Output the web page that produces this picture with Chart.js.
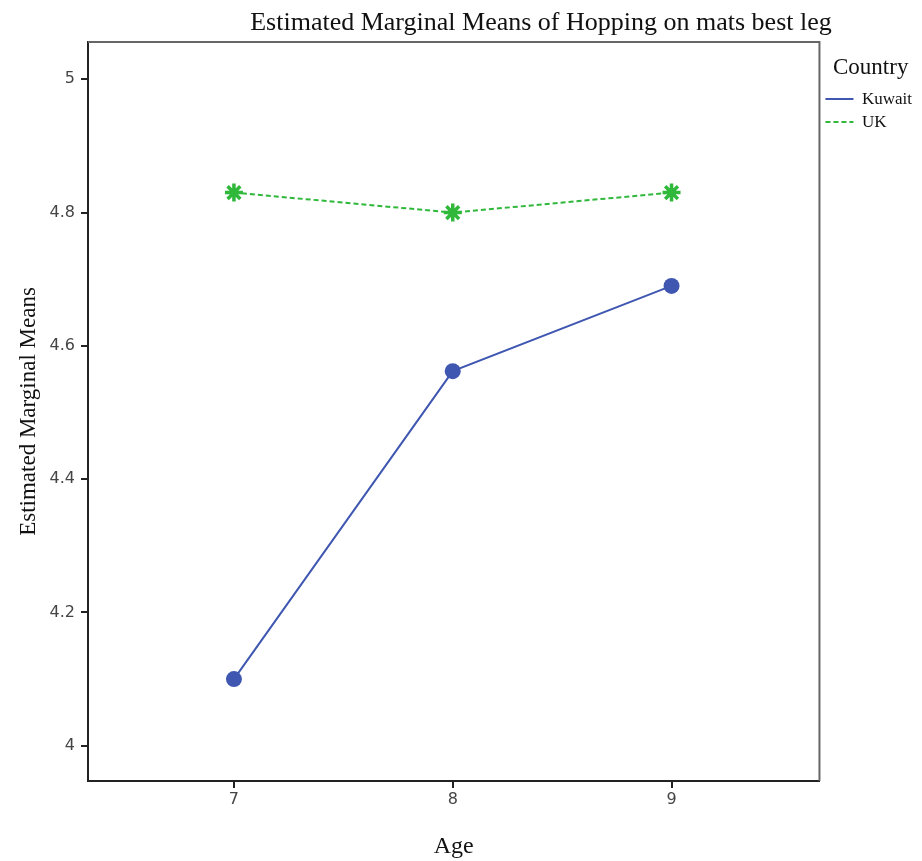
<!DOCTYPE html>
<html>
  <head>
    <script src="https://cdn.jsdelivr.net/npm/chart.js@4"></script>
    <style>
      html, body { margin: 0; padding: 0; background: #ffffff; }
      #box { width: 922px; height: 861px; }
    </style>
  </head>

  <body>
    <div id="box"><canvas id="emm"></canvas></div>
  </body>

  <script>
    // values
    var ages = [7, 8, 9];
    var kuwait = [4.10, 4.562, 4.69];
    var uk = [4.83, 4.80, 4.83];
    var yTicks = [4, 4.2, 4.4, 4.6, 4.8, 5];
    var yLabels = ["4", "4.2", "4.4", "4.6", "4.8", "5"];
    var title = "Estimated Marginal Means of Hopping on mats best leg";

    var serif = "'Liberation Serif', 'DejaVu Serif', serif";
    var sans = "'DejaVu Sans', sans-serif";

    function pts(ys) {
      return ages.map(function (a, i) { return { x: a, y: ys[i] }; });
    }

    // grey frame on top/right of the plot, and the title
    const frame = {
      id: "frame",
      afterDraw(chart) {
        const a = chart.chartArea;
        const ctx = chart.ctx;
        ctx.save();
        ctx.strokeStyle = "#666666";
        ctx.lineWidth = 2;
        ctx.beginPath();
        ctx.moveTo(a.left, a.top);
        ctx.lineTo(a.right, a.top);
        ctx.lineTo(a.right, a.bottom);
        ctx.stroke();
        ctx.fillStyle = "#111111";
        ctx.font = "26px " + serif;
        ctx.textAlign = "center";
        ctx.textBaseline = "middle";
        ctx.fillText(title, 541, 23);
        ctx.restore();
      },
    };

    const ctx = document.getElementById("emm").getContext("2d");
    const chart = new Chart(ctx, {
      type: "line",
      data: {
        datasets: [
          {
            label: "Kuwait",
            data: pts(kuwait),
            borderColor: "#3f57b1",
            backgroundColor: "#3f57b1",
            borderWidth: 2,
            pointRadius: 8,
            pointStyle: "circle",
            pointBorderWidth: 0,
          },
          {
            label: "UK",
            data: pts(uk),
            borderColor: "#2fb83a",
            backgroundColor: "#2fb83a",
            borderWidth: 2,
            borderDash: [5, 3],
            pointRadius: 9,
            pointStyle: "star",
            pointBorderWidth: 3.5,
          },
        ],
      },
      options: {
        animation: false,
        responsive: true,
        maintainAspectRatio: false,
        devicePixelRatio: 1,
        layout: { padding: { top: 42, left: 0, right: 0, bottom: 0 } },
        scales: {
          x: {
            type: "linear",
            min: 6.333,
            max: 9.676,
            afterBuildTicks: function (s) { s.ticks = ages.map(function (v) { return { value: v }; }); },
            afterFit: function (s) { s.height = 80; },
            grid: { drawOnChartArea: false, drawTicks: true, tickLength: 7, color: "#222222", lineWidth: 2 },
            border: { display: true, color: "#222222", width: 2 },
            ticks: { color: "#444444", font: { family: sans, size: 16 }, padding: 2, callback: function (v) { return String(v); } },
            title: { display: true, text: "Age", color: "#111111", font: { family: serif, size: 24 }, padding: { top: 4, bottom: 0 } },
          },
          y: {
            min: 3.947,
            max: 5.056,
            afterBuildTicks: function (s) { s.ticks = yTicks.map(function (v) { return { value: v }; }); },
            afterFit: function (s) { s.width = 88; },
            grid: { drawOnChartArea: false, drawTicks: true, tickLength: 7, color: "#222222", lineWidth: 2 },
            border: { display: true, color: "#222222", width: 2 },
            ticks: {
              color: "#444444",
              font: { family: sans, size: 16 },
              padding: 6,
              callback: function (v) { return yLabels[yTicks.indexOf(v)]; },
            },
            title: { display: true, text: "Estimated Marginal Means", color: "#111111", font: { family: serif, size: 23 }, padding: { top: 15, bottom: 0 } },
          },
        },
        plugins: {
          legend: {
            position: "right",
            align: "start",
            title: { display: true, text: "Country", color: "#111111", font: { family: serif, size: 23 }, padding: { top: 14, bottom: 1 } },
            labels: {
              color: "#111111",
              font: { family: serif, size: 17 },
              usePointStyle: true,
              pointStyle: "line",
              pointStyleWidth: 28,
              boxHeight: 17,
              padding: 6,
              generateLabels: function (c) {
                return c.data.datasets.map(function (d, i) {
                  return {
                    text: d.label,
                    datasetIndex: i,
                    strokeStyle: d.borderColor,
                    fillStyle: d.borderColor,
                    fontColor: "#111111",
                    lineWidth: 2,
                    lineDash: d.borderDash || [],
                    pointStyle: "line",
                    hidden: false,
                  };
                });
              },
            },
          },
          title: { display: false },
          tooltip: { enabled: false },
        },
      },
      plugins: [frame],
    });
  </script>
</html>
